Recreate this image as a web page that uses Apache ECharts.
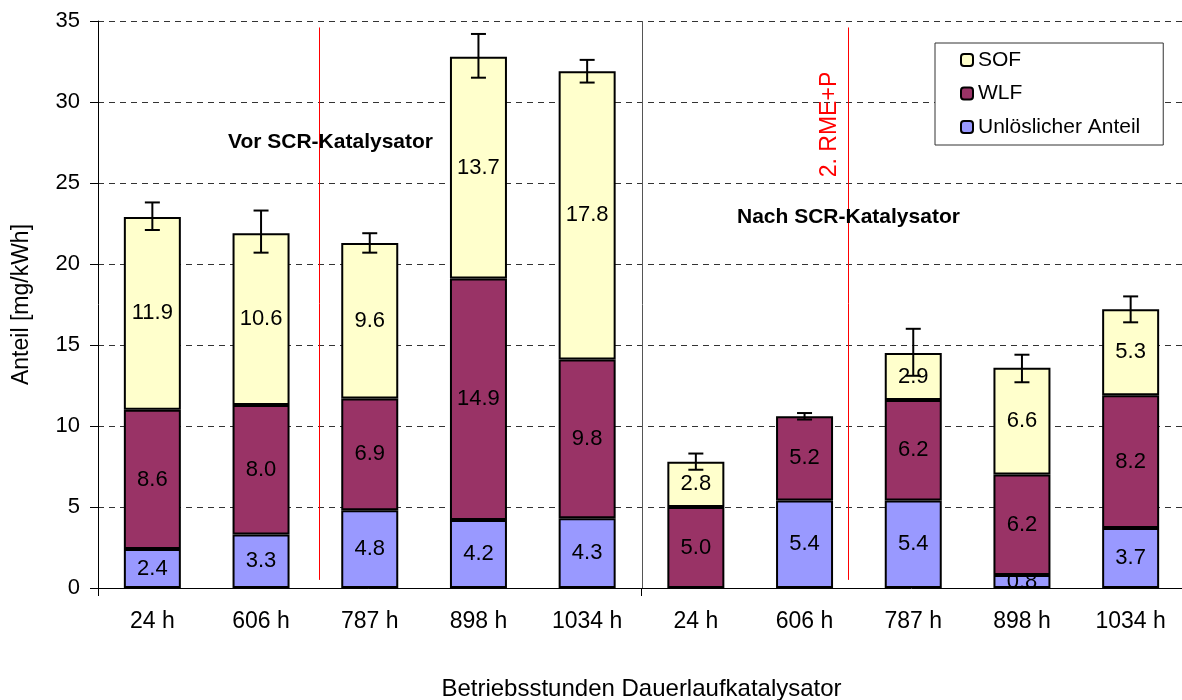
<!DOCTYPE html>
<html>
<head>
<meta charset="utf-8">
<script src="https://cdn.jsdelivr.net/npm/echarts@6/dist/echarts.min.js"></script>
<style>
  html, body { margin: 0; padding: 0; background: #fff; }
  #chart { width: 1182px; height: 700px; }
</style>
</head>
<body>
<div id="chart"></div>
<script>
// Operating hours of the endurance catalyst (before / after SCR catalyst)
const categories = ['24 h', '606 h', '787 h', '898 h', '1034 h', '24 h', '606 h', '787 h', '898 h', '1034 h'];

// Particulate fractions in mg/kWh (null = fraction not present)
const unloeslich = [2.4, 3.3, 4.8, 4.2, 4.3, null, 5.4, 5.4, 0.8, 3.7];
const wlf        = [8.6, 8.0, 6.9, 14.9, 9.8, 5.0, 5.2, 6.2, 6.2, 8.2];
const sof        = [11.9, 10.6, 9.6, 13.7, 17.8, 2.8, null, 2.9, 6.6, 5.3];

// Error bar limits of the total particulate mass
const errLow  = [22.1, 20.7, 20.7, 31.5, 31.2, 7.3, 10.4, 13.1, 12.7, 16.4];
const errHigh = [23.8, 23.3, 21.9, 34.2, 32.6, 8.3, 10.8, 16.0, 14.4, 18.0];

// Y axis range
const yMin = 0, yMax = 35, yStep = 5;

// Vertical guide lines, in category units: group separator and the two red markers
const guideAt    = [4.5, 1.53, 6.40];
const guideFrom  = [0, 0.5, 0.5];
const guideTo    = [35, 34.6, 34.6];
const guideColor = ['#555555', '#FF0000', '#FF0000'];

const font = 'Liberation Sans, Arial, sans-serif';
const chart = echarts.init(document.getElementById('chart'), null, { renderer: 'canvas' });

const labelOpt = {
  show: true,
  position: 'inside',
  color: '#000',
  fontSize: 22,
  fontFamily: font,
  formatter: p => (p.value == null ? '' : p.value.toFixed(1))
};

function barSeries(name, data, color) {
  return {
    name: name,
    type: 'bar',
    stack: 'total',
    barWidth: 57,
    data: data,
    itemStyle: { color: color, borderColor: '#000', borderWidth: 2 },
    label: labelOpt,
    emphasis: { disabled: true },
    z: 2
  };
}

const textGraphics = [
  {
    type: 'text',
    x: 228, y: 142,
    style: { text: 'Vor SCR-Katalysator', fontSize: 21, fontWeight: 'bold', fontFamily: font, fill: '#000', verticalAlign: 'middle' },
    z: 10
  },
  {
    type: 'text',
    x: 737, y: 217,
    style: { text: 'Nach SCR-Katalysator', fontSize: 21, fontWeight: 'bold', fontFamily: font, fill: '#000', verticalAlign: 'middle' },
    z: 10
  },
  {
    type: 'text',
    x: 829.5, y: 124.5,
    rotation: Math.PI / 2,
    style: { text: '2. RME+P', fontSize: 23, fontFamily: font, fill: '#FF0000', align: 'center', verticalAlign: 'middle' },
    z: 10
  }
];

const option = {
  animation: false,
  backgroundColor: '#fff',
  grid: { left: 98, top: 21, width: 1087, height: 567, outerBoundsMode: 'none' },
  legend: {
    orient: 'vertical',
    left: 935,
    top: 43,
    padding: [6, 23, 7, 25],
    borderColor: '#333',
    borderWidth: 1,
    backgroundColor: '#fff',
    itemWidth: 12,
    itemHeight: 12,
    itemGap: 11.5,
    itemStyle: { borderColor: '#000', borderWidth: 2 },
    textStyle: { fontSize: 21, lineHeight: 22, fontFamily: font, color: '#000' },
    data: ['SOF', 'WLF', 'Unlöslicher Anteil']
  },
  xAxis: [
    {
      type: 'category',
      data: categories,
      boundaryGap: true,
      name: 'Betriebsstunden Dauerlaufkatalysator',
      nameLocation: 'middle',
      nameGap: 89,
      nameTextStyle: { fontSize: 24, fontFamily: font, color: '#000' },
      axisLine: { onZero: false, lineStyle: { color: '#000', width: 1 } },
      axisTick: { show: true, length: 8, interval: (i) => i === 0 || i === 5, lineStyle: { color: '#000' } },
      axisLabel: { fontSize: 23, fontFamily: font, color: '#000', margin: 22, interval: 0 },
      splitLine: { show: false }
    },
    {
      // hidden helper axis for placing lines between categories
      type: 'value',
      min: -0.5,
      max: 9.5,
      show: false,
      axisLine: { onZero: false },
      splitLine: { show: false }
    }
  ],
  yAxis: {
    type: 'value',
    min: yMin,
    max: yMax,
    interval: yStep,
    name: 'Anteil [mg/kWh]',
    nameLocation: 'middle',
    nameGap: 65,
    nameTextStyle: { fontSize: 23, fontFamily: font, color: '#000' },
    axisLine: { show: true, onZero: false, lineStyle: { color: '#000', width: 1 } },
    axisTick: { show: true, length: 8, lineStyle: { color: '#000' } },
    axisLabel: { fontSize: 22, fontFamily: font, color: '#000', margin: 18 },
    splitLine: { show: true, lineStyle: { color: '#333', type: [6, 5], width: 1 } }
  },
  series: [
    barSeries('Unlöslicher Anteil', unloeslich, '#9999FF'),
    barSeries('WLF', wlf, '#993366'),
    barSeries('SOF', sof, '#FFFFCC'),
    {
      name: 'Fehler',
      type: 'custom',
      data: categories.map((_, i) => [i, errLow[i], errHigh[i]]),
      z: 5,
      silent: true,
      renderItem: function (params, api) {
        const x = api.value(0);
        const lo = api.coord([x, api.value(1)]);
        const hi = api.coord([x, api.value(2)]);
        const cap = 7.5;
        const style = { stroke: '#000', lineWidth: 2 };
        return {
          type: 'group',
          children: [
            { type: 'line', shape: { x1: lo[0], y1: lo[1], x2: hi[0], y2: hi[1] }, style: style },
            { type: 'line', shape: { x1: lo[0] - cap, y1: lo[1], x2: lo[0] + cap, y2: lo[1] }, style: style },
            { type: 'line', shape: { x1: hi[0] - cap, y1: hi[1], x2: hi[0] + cap, y2: hi[1] }, style: style }
          ]
        };
      }
    }
  ],
  graphic: textGraphics
};

chart.setOption(option);

// Guide lines placed through the axes' own scales
const guideGraphics = guideAt.map((v, i) => {
  const x = Math.round(chart.convertToPixel({ xAxisIndex: 1 }, v)) + 0.5;
  const y1 = chart.convertToPixel({ yAxisIndex: 0 }, guideFrom[i]);
  const y2 = chart.convertToPixel({ yAxisIndex: 0 }, guideTo[i]);
  return {
    type: 'line',
    silent: true,
    z: 1,
    shape: { x1: x, y1: y1, x2: x, y2: y2 },
    style: { stroke: guideColor[i], lineWidth: 1 }
  };
});

chart.setOption({ graphic: textGraphics.concat(guideGraphics) }, { replaceMerge: ['graphic'] });
</script>
</body>
</html>
